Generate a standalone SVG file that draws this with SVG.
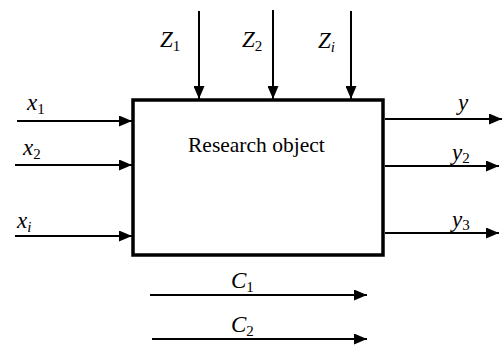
<svg xmlns="http://www.w3.org/2000/svg" width="504" height="345" viewBox="0 0 504 345">
<style>
.ln{stroke:#000;stroke-width:2;fill:none}
.m{font-family:"Liberation Serif","DejaVu Serif",serif;font-style:italic;font-size:23px;fill:#000}
.s{font-style:normal;font-size:15px}
.si{font-style:italic;font-size:15px}
.t{font-family:"Liberation Serif","DejaVu Serif",serif;font-size:21.5px;fill:#000}
</style>
<defs>
<marker id="ah" viewBox="0 0 13 11" refX="13" refY="5.5" markerWidth="13" markerHeight="11" markerUnits="userSpaceOnUse" orient="auto">
<path d="M0,0 L13,5.5 L0,11 Z" fill="#000"/>
</marker>
</defs>
<rect width="504" height="345" fill="#fff"/>
<g id="box">
<rect x="133" y="100" width="250" height="155" fill="#fff" stroke="#000" stroke-width="3.5"/>
<text class="t" x="188" y="152">Research object</text>
</g>
<g id="connectors">
<line class="ln" x1="17" y1="121" x2="132" y2="121" marker-end="url(#ah)"/>
<line class="ln" x1="15" y1="165" x2="132" y2="165" marker-end="url(#ah)"/>
<line class="ln" x1="15" y1="236" x2="132" y2="236" marker-end="url(#ah)"/>
<line class="ln" x1="199" y1="11" x2="199" y2="99" marker-end="url(#ah)"/>
<line class="ln" x1="273" y1="10" x2="273" y2="99" marker-end="url(#ah)"/>
<line class="ln" x1="351" y1="11" x2="351" y2="99" marker-end="url(#ah)"/>
<line class="ln" x1="385" y1="119" x2="502" y2="119" marker-end="url(#ah)"/>
<line class="ln" x1="385" y1="166" x2="499" y2="166" marker-end="url(#ah)"/>
<line class="ln" x1="385" y1="233" x2="499" y2="233" marker-end="url(#ah)"/>
<line class="ln" x1="150" y1="295" x2="367" y2="295" marker-end="url(#ah)"/>
<line class="ln" x1="152" y1="339" x2="367" y2="339" marker-end="url(#ah)"/>
</g>
<g id="labels">
<text class="m" x="27" y="110">x<tspan class="s" dy="4">1</tspan></text>
<text class="m" x="23" y="155">x<tspan class="s" dy="4">2</tspan></text>
<text class="m" x="17" y="228">x<tspan class="si" dy="4">i</tspan></text>
<text class="m" x="160" y="47">Z<tspan class="s" dy="4">1</tspan></text>
<text class="m" x="242" y="47">Z<tspan class="s" dy="4">2</tspan></text>
<text class="m" x="318" y="48">Z<tspan class="si" dy="4">i</tspan></text>
<text class="m" x="458" y="110">y</text>
<text class="m" x="452" y="160">y<tspan class="s" dy="3">2</tspan></text>
<text class="m" x="452" y="227">y<tspan class="s" dy="3">3</tspan></text>
<text class="m" x="231" y="288">C<tspan class="s" dy="4">1</tspan></text>
<text class="m" x="231" y="332">C<tspan class="s" dy="4">2</tspan></text>
</g>
</svg>
